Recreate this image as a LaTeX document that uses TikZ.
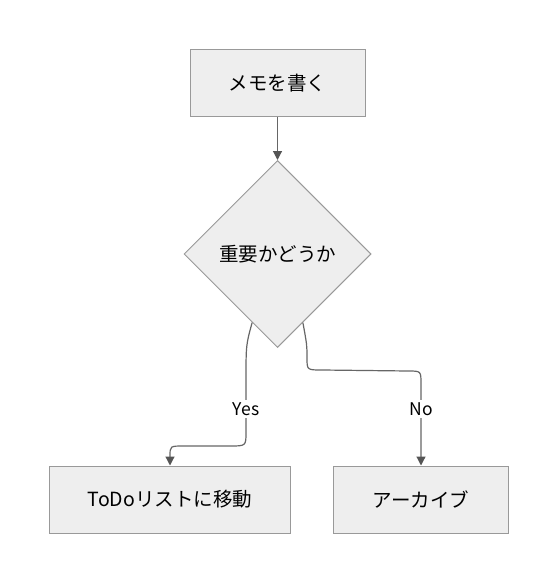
\documentclass[tikz,border=0pt]{standalone}
\usepackage{fontspec}
\setmainfont{Noto Sans CJK JP}
\usetikzlibrary{shapes.geometric,arrows.meta,calc}
\definecolor{nodefill}{HTML}{EEEEEE}
\definecolor{nodeline}{HTML}{999999}
\definecolor{edgeline}{HTML}{666666}
\definecolor{tipcol}{HTML}{555555}
\begin{document}
\begin{tikzpicture}[x=1pt,y=-1pt,
  box/.style={draw=nodeline,fill=nodefill,line width=1pt,inner sep=0pt,font=\fontsize{19.5}{22}\selectfont},
  dia/.style={diamond,draw=nodeline,fill=nodefill,line width=1pt,inner sep=0pt,minimum width=187pt,minimum height=187pt,font=\fontsize{19.5}{22}\selectfont},
  edge/.style={draw=edgeline,line width=1.2pt,-{Triangle[length=9pt,width=9pt,color=tipcol]}},
  lbl/.style={fill=white,inner sep=2pt,font=\fontsize{17.5}{20}\selectfont}]
\useasboundingbox (0,0) rectangle (558,583);
\fill[white] (0,0) rectangle (558,583);
\node[box,minimum width=175pt,minimum height=67pt] (memo) at (277.5,83.5) {メモを書く};
\node[dia] (q) at (277.5,254) {重要かどうか};
\node[box,minimum width=241pt,minimum height=67pt] (todo) at (170,499.5) {ToDoリストに移動};
\node[box,minimum width=175pt,minimum height=67pt] (arch) at (421,499.5) {アーカイブ};
\draw[edge] (memo.south) -- (q.north);
\coordinate (ys) at ($(q.west)!0.73!(q.south)$);
\coordinate (ns) at ($(q.east)!0.73!(q.south)$);
\draw[edge] (ys) .. controls (246,345) .. (246,380) -- (246,432)
  .. controls (246,446) .. (230,446) -- (184,446)
  .. controls (170,446) .. (170,456) -- (todo.north);
\draw[edge] (ns) .. controls (307,345) .. (307,358)
  .. controls (307,370) .. (322,370) -- (408,371)
  .. controls (421,371) .. (421,384) -- (arch.north);
\node[lbl] (yes) at (246,409) {Yes};
\node[lbl] (no) at (421,409) {No};
\end{tikzpicture}
\end{document}
